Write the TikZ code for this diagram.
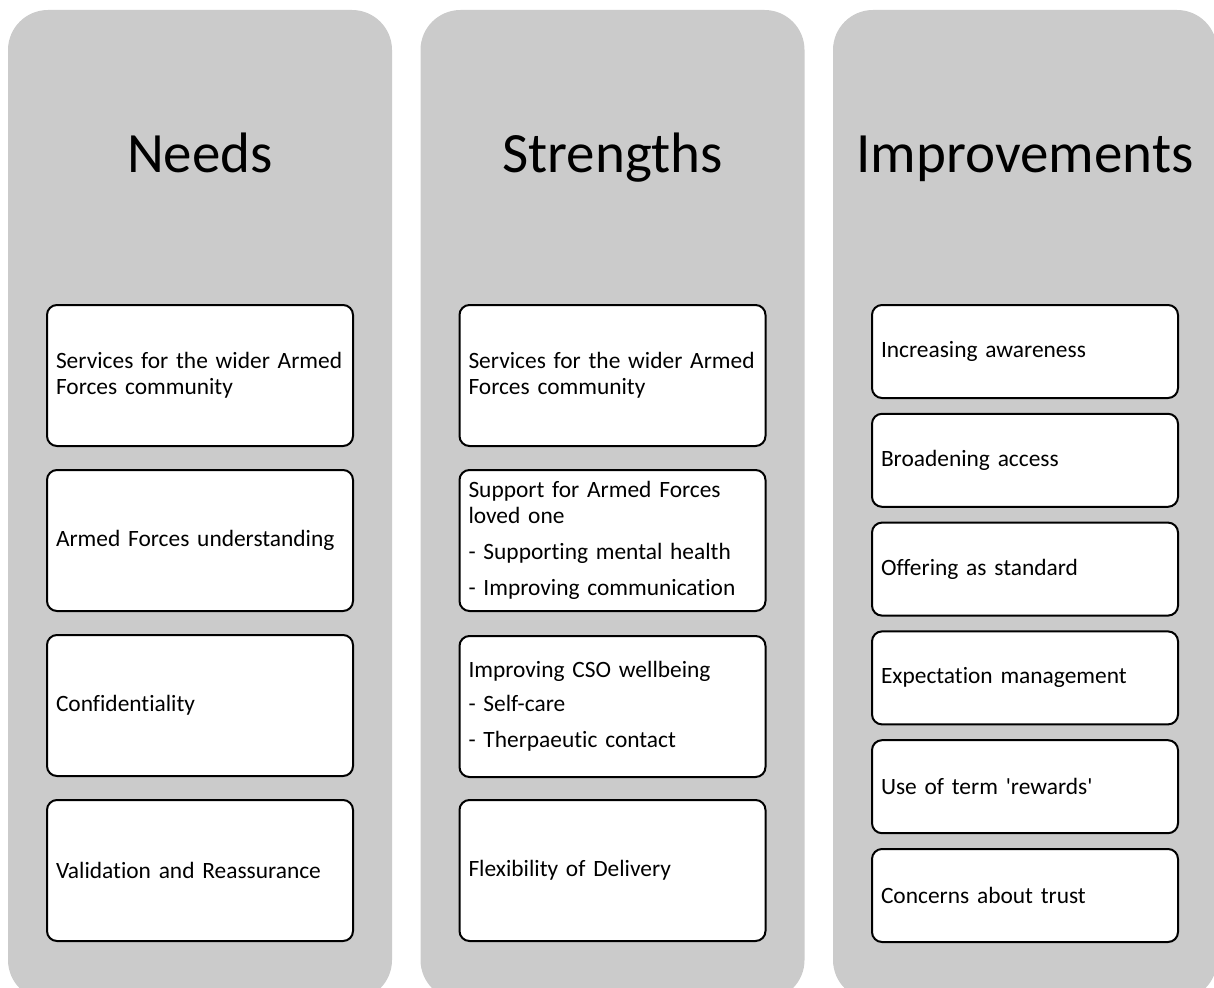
\documentclass[tikz,border=0pt]{standalone}
\usepackage{fontspec}
\setmainfont{Carlito}[Ligatures={NoCommon}]
\definecolor{colgray}{RGB}{203,203,203}
\tikzset{
  column/.style={fill=colgray, draw=none, rounded corners=40pt, minimum width=384pt, minimum height=990pt, inner sep=0pt},
  title/.style={anchor=base, font=\fontsize{57}{68}\selectfont, inner sep=0pt},
  item/.style={draw=black, line width=2pt, fill=white, rounded corners=10pt,
    text width=288pt, inner xsep=9pt, inner ysep=0pt, align=left,
    minimum height=141pt, font=\fontsize{23.4}{26.5}\selectfont},
  bigitem/.style={item},
  smallitem/.style={item, minimum height=93pt}
}
\begin{document}
\begin{tikzpicture}[x=1pt,y=-1pt]
\useasboundingbox (0,0) rectangle (1214,987);
\clip (0,0) rectangle (1214,987);
% columns
\node[column] (c1) at (200,505) {};
\node[column] (c2) at (612.5,505) {};
\node[column] (c3) at (1025,505) {};
% titles
\node[title] (t1) at (200,173) {Needs};
\node[title] (t2) at (612.5,173) {Strengths};
\node[title] (t3) at (1025,173) {Improvements};
% Needs
\node[bigitem] (n1) at (200,375.5) {\mbox{Services for the wider Armed}\\Forces community};
\node[bigitem] (n2) at (200,540.5) {\mbox{Armed Forces understanding}};
\node[bigitem] (n3) at (200,705.5) {Confidentiality};
\node[bigitem] (n4) at (200,870.5) {Validation and Reassurance};
% Strengths
\node[bigitem] (s1) at (612.5,375.5) {\mbox{Services for the wider Armed}\\Forces community};
\node[bigitem] (s2) at (612.5,540.5) {Support for Armed Forces\\loved one\\[9.5pt]- Supporting mental health\\[9.5pt]- \mbox{Improving communication}};
\node[bigitem] (s3) at (612.5,706.5) {Improving CSO wellbeing\\[8pt]- Self-care\\[9.5pt]- Therpaeutic contact};
\node[bigitem] (s4) at (612.5,870.5) {Flexibility of Delivery};
% Improvements
\node[smallitem] (i1) at (1025,351.5) {Increasing awareness};
\node[smallitem] (i2) at (1025,460.3) {Broadening access};
\node[smallitem] (i3) at (1025,569.1) {Offering as standard};
\node[smallitem] (i4) at (1025,677.9) {Expectation management};
\node[smallitem] (i5) at (1025,786.7) {Use of term \textquotesingle rewards\textquotesingle};
\node[smallitem] (i6) at (1025,895.5) {Concerns about trust};
\end{tikzpicture}
\end{document}
